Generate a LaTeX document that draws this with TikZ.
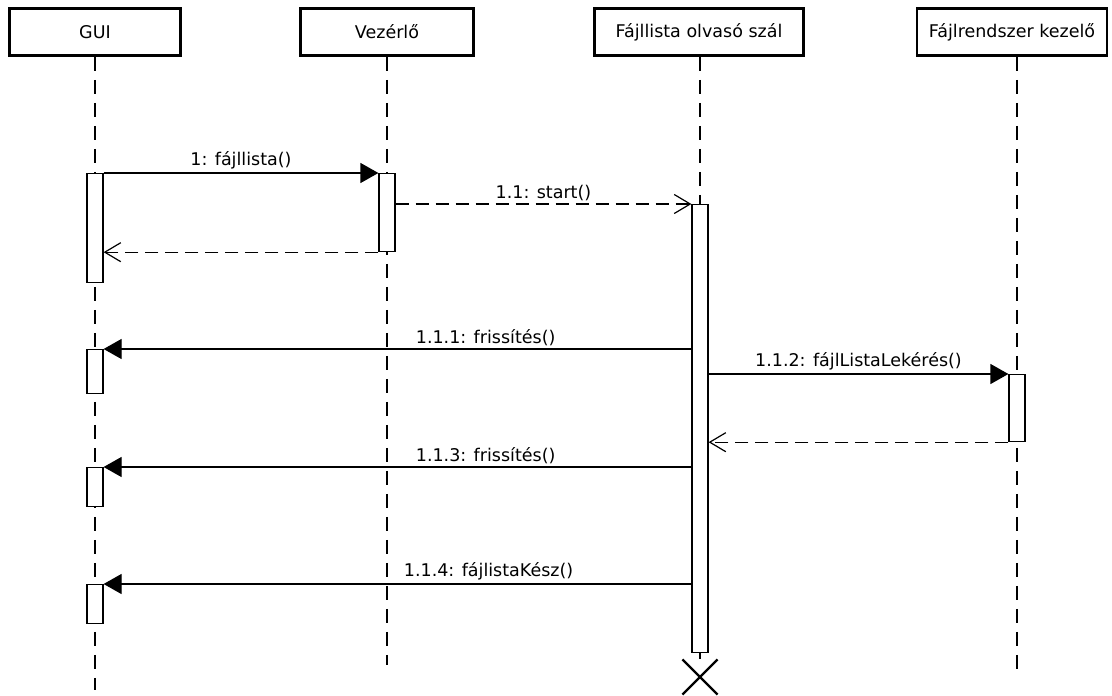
\documentclass[tikz,border=0pt]{standalone}
\usepackage{fontspec}
\setmainfont{DejaVu Sans}
\usetikzlibrary{arrows.meta,shapes.misc}

\begin{document}
\begin{tikzpicture}[x=1pt, y=-1pt, line width=1.2pt,
    font=\fontsize{17.5}{20}\selectfont,
    actor/.style={draw, line width=2.6pt, fill=white, minimum height=47pt, inner sep=0pt},
    act/.style={draw, fill=white, minimum width=16pt, anchor=north, inner sep=0pt},
    lifeline/.style={dash pattern=on 14pt off 9pt},
    msg/.style={-{Triangle[length=18pt,width=20pt]}},
    reply/.style={dash pattern=on 13pt off 7pt, -{Straight Barb[length=16pt,width=19pt]}},
    lbl/.style={above, inner sep=3pt}]
    \useasboundingbox (0,0) rectangle (1112,696);

    % heads
    \node[actor, minimum width=171pt] (guih) at (95,32) {GUI};
    \node[actor, minimum width=173pt] (vezh) at (387,32) {Vezérlő};
    \node[actor, minimum width=209pt] (flh) at (699,32) {Fájllista olvasó szál};
    \node[actor, minimum width=190pt] (frh) at (1012,32) {Fájlrendszer kezelő};

    % lifeline ends
    \coordinate (guiend) at (95,690);
    \coordinate (vezend) at (387,665);
    \coordinate (frend) at (1017,674);
    \node[draw, cross out, line width=2.2pt, minimum size=33pt, inner sep=0pt] (flend) at (700,677) {};

    \draw[lifeline] (guih.south) -- (guiend);
    \draw[lifeline] (vezh.south) -- (vezend);
    \draw[lifeline] (frh.south -| frend) -- (frend);

    % activations
    \node[act, minimum height=109pt] (g1) at (95,173) {};
    \node[act, minimum height=78pt] (v1) at (387,173) {};
    \node[act, minimum height=448pt] (f1) at (700,204) {};
    \node[act, minimum height=44pt] (g2) at (95,349) {};
    \node[act, minimum height=67pt] (r1) at (1017,374) {};
    \node[act, minimum height=39pt] (g3) at (95,467) {};
    \node[act, minimum height=39pt] (g4) at (95,584) {};

    \draw[lifeline] (flh.south -| f1) -- (f1.north);
    \draw (f1.south) -- (flend.north);

    % messages
    \draw[msg] (g1.north east) -- node[lbl] (m1) {1: fájllista()} (v1.north west);
    \draw[reply] (v1.east |- f1.north) -- node[lbl] (m11) {1.1: start()} (f1.north west);
    \draw[reply] (v1.south west) -- (g1.east |- v1.south);
    \draw[msg] (f1.west |- g2.north) -- node[lbl, pos=0.35] (m111) {1.1.1: frissítés()} (g2.north east);
    \draw[msg] (f1.east |- r1.north) -- node[lbl] (m112) {1.1.2: fájlListaLekérés()} (r1.north west);
    \draw[reply] (r1.south west) -- (f1.east |- r1.south);
    \draw[msg] (f1.west |- g3.north) -- node[lbl, pos=0.35] (m113) {1.1.3: frissítés()} (g3.north east);
    \draw[msg] (f1.west |- g4.north) -- node[lbl, pos=0.345] (m114) {1.1.4: fájlistaKész()} (g4.north east);
\end{tikzpicture}
\end{document}
